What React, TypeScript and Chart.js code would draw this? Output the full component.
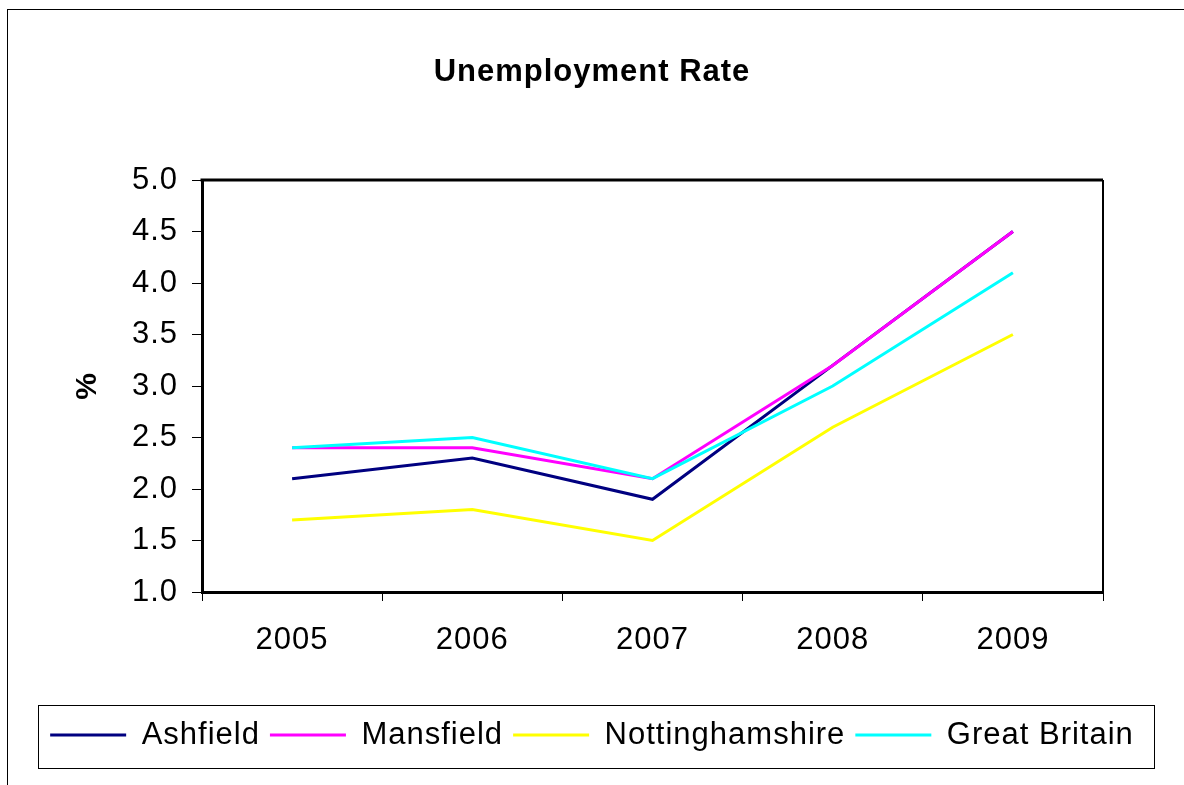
import React, { useEffect, useRef } from "react";
import { Chart, registerables } from "chart.js";

Chart.register(...registerables);

const categories = ["2005", "2006", "2007", "2008", "2009"];
const ashfield = [2.1, 2.3, 1.9, 3.2, 4.5];
const mansfield = [2.4, 2.4, 2.1, 3.2, 4.5];
const nottinghamshire = [1.7, 1.8, 1.5, 2.6, 3.5];
const greatBritain = [2.4, 2.5, 2.1, 3.0, 4.1];
const seriesNames = ["Ashfield", "Mansfield", "Nottinghamshire", "Great Britain"];
const seriesColors = ["#000080", "#FF00FF", "#FFFF00", "#00FFFF"];
const chartTitle = "Unemployment Rate";
const yAxisTitle = "%";
const yMin = 1.0;
const yMax = 5.0;
const yStep = 0.5;

const FONT = "'Liberation Sans', Arial, Helvetica, sans-serif";
const SPACING = "1px";

const decorPlugin = {
  id: "decor",
  beforeLayout(chart: any) {
    chart.ctx.letterSpacing = SPACING;
  },
  beforeDraw(chart: any) {
    const ctx = chart.ctx;
    ctx.letterSpacing = SPACING;
    ctx.save();
    ctx.fillStyle = "#ffffff";
    ctx.fillRect(0, 0, chart.width, chart.height);
    ctx.restore();
  },
  afterDraw(chart: any) {
    const ctx = chart.ctx;
    ctx.save();
    ctx.strokeStyle = "#000000";
    ctx.lineWidth = 1;
    // outer frame
    ctx.strokeRect(7.5, 9.5, chart.width + 20, chart.height + 20);
    // legend frame
    ctx.strokeRect(38.5, 705.5, 1116, 63);
    // plot area top & right edges
    const { left, top, right, bottom } = chart.chartArea;
    ctx.lineWidth = 3;
    ctx.beginPath();
    ctx.moveTo(left - 1.5, top);
    ctx.lineTo(right, top);
    ctx.stroke();
    ctx.lineWidth = 2;
    ctx.beginPath();
    ctx.moveTo(right, top);
    ctx.lineTo(right, bottom);
    ctx.stroke();
    ctx.restore();
  },
};

export default function App() {
  const canvasRef = useRef<HTMLCanvasElement | null>(null);

  useEffect(() => {
    if (!canvasRef.current) return;
    const seriesValues = [ashfield, mansfield, nottinghamshire, greatBritain];
    const chart = new Chart(canvasRef.current, {
      type: "line",
      data: {
        labels: categories,
        datasets: seriesValues.map((vals, i) => ({
          label: seriesNames[i],
          data: vals,
          borderColor: seriesColors[i],
          backgroundColor: seriesColors[i],
          borderWidth: 3,
          pointRadius: 0,
          pointHoverRadius: 0,
          tension: 0,
          fill: false,
          order: seriesValues.length - i,
          yAxisID: "y",
        })),
      },
      options: {
        responsive: false,
        animation: false,
        events: [],
        layout: { padding: { left: 0, right: 0, top: 0, bottom: 24.5 } },
        plugins: {
          title: {
            display: true,
            text: chartTitle,
            color: "#000",
            font: { family: FONT, size: 31, weight: "bold" },
            padding: { top: 53.9, bottom: 88.9 },
          },
          legend: {
            display: true,
            position: "bottom",
            labels: {
              color: "#000",
              font: { family: FONT, size: 31 },
              boxWidth: 76,
              boxHeight: 3,
              padding: 10,
              sort: (a: any, b: any) => a.datasetIndex - b.datasetIndex,
              generateLabels: (c: any) =>
                (Chart.defaults.plugins.legend.labels as any)
                  .generateLabels(c)
                  .map((l: any) => ({ ...l, fillStyle: l.strokeStyle, lineWidth: 0 })),
            },
          },
          tooltip: { enabled: false },
        },
        scales: {
          x: {
            type: "category",
            offset: true,
            grid: {
              display: true,
              offset: true,
              drawOnChartArea: false,
              drawTicks: true,
              tickLength: 9,
              color: "#000",
              lineWidth: 1,
            },
            border: { display: true, color: "#000", width: 3 },
            ticks: {
              color: "#000",
              font: { family: FONT, size: 31 },
              padding: 21,
              maxRotation: 0,
            },
            afterFit: (s: any) => {
              s.height = 117.5;
            },
          },
          y: {
            type: "linear",
            position: "left",
            min: yMin,
            max: yMax,
            grid: {
              display: true,
              drawOnChartArea: false,
              drawTicks: true,
              tickLength: 10,
              color: "#000",
              lineWidth: 1,
            },
            border: { display: true, color: "#000", width: 3 },
            ticks: {
              stepSize: yStep,
              color: "#000",
              font: { family: FONT, size: 31 },
              padding: 14,
              callback: (v: any) => Number(v).toFixed(1),
            },
            title: {
              display: true,
              text: yAxisTitle,
              color: "#000",
              font: { family: FONT, size: 30, weight: "bold" },
              padding: { top: 70, bottom: 0 },
            },
            afterFit: (s: any) => {
              s.width = 202;
            },
          },
          y2: {
            type: "linear",
            position: "right",
            display: true,
            min: 0,
            max: 1,
            grid: { display: false, drawTicks: false },
            border: { display: false },
            ticks: { display: false },
            afterFit: (s: any) => {
              s.width = 81;
            },
          },
        },
      } as any,
      plugins: [decorPlugin],
    });
    return () => chart.destroy();
  }, []);

  return (
    <div style={{ position: "absolute", left: 0, top: 0, width: 1184, height: 785, background: "#fff" }}>
      <canvas ref={canvasRef} width={1184} height={785} style={{ display: "block", width: 1184, height: 785 }} />
    </div>
  );
}
